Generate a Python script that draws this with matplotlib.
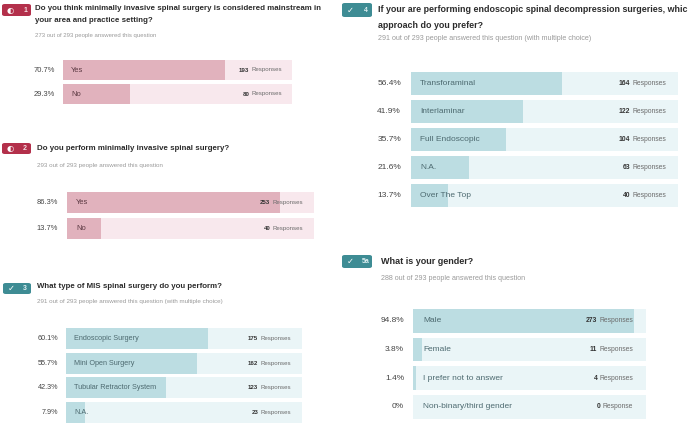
import matplotlib
matplotlib.use("Agg")
import matplotlib.pyplot as plt
from matplotlib.patches import FancyBboxPatch

W, H = 688, 424

# --- datos de las preguntas ---
q1_title = ["Do you think minimally invasive spinal surgery is considered mainstream in",
            "your area and practice setting?"]
q1_sub = "273 out of 293 people answered this question"
q1_labels = ["Yes", "No"]
q1_pct = [70.7, 29.3]
q1_resp = [193, 80]

q2_title = ["Do you perform minimally invasive spinal surgery?"]
q2_sub = "293 out of 293 people answered this question"
q2_labels = ["Yes", "No"]
q2_pct = [86.3, 13.7]
q2_resp = [253, 40]

q3_title = ["What type of MIS spinal surgery do you perform?"]
q3_sub = "291 out of 293 people answered this question (with multiple choice)"
q3_labels = ["Endoscopic Surgery", "Mini Open Surgery", "Tubular Retractor System", "N.A."]
q3_pct = [60.1, 55.7, 42.3, 7.9]
q3_resp = [175, 162, 123, 23]

q4_title = ["If your are performing endoscopic spinal decompression surgeries, which",
            "approach do you prefer?"]
q4_sub = "291 out of 293 people answered this question (with multiple choice)"
q4_labels = ["Transforaminal", "Interlaminar", "Full Endoscopic", "N.A.", "Over The Top"]
q4_pct = [56.4, 41.9, 35.7, 21.6, 13.7]
q4_resp = [164, 122, 104, 63, 40]

q5_title = ["What is your gender?"]
q5_sub = "288 out of 293 people answered this question"
q5_labels = ["Male", "Female", "I prefer not to answer", "Non-binary/third gender"]
q5_pct = [94.8, 3.8, 1.4, 0]
q5_resp = [273, 11, 4, 0]

ROSA = ("#b3304b", "#e1b2bd", "#f8e8ed", "#5b3942")
VERDE = ("#3e8c94", "#bcdde2", "#eaf5f7", "#4d6a70")

plt.rcParams['font.family'] = ['Liberation Sans', 'DejaVu Sans']

fig = plt.figure(figsize=(W / 100, H / 100), dpi=100)


def rect(x0, y0, x1, y1):
    return [x0 / W, 1 - y1 / H, (x1 - x0) / W, (y1 - y0) / H]


def badge(x0, y0, x1, y1, color, icon, num):
    p = FancyBboxPatch((x0 / W, 1 - y1 / H), (x1 - x0) / W, (y1 - y0) / H,
                       boxstyle="round,pad=0,rounding_size=0.004",
                       transform=fig.transFigure, fc=color, ec="none")
    fig.add_artist(p)
    yc = 1 - (y0 + y1) / 2 / H
    fig.text((x0 + 8) / W, yc, icon, color="white", fontsize=6, ha="center", va="center",
             family=["DejaVu Sans"])
    fig.text((x1 - 6) / W, yc, num, color="#f5dde2" if color == ROSA[0] else "#dff0f2",
             fontsize=5, ha="center", va="center", weight="bold")


def encabezado(x, ys, lineas, sub, ysub, fs=5.7, fs_sub=4.5):
    for y, t in zip(ys, lineas):
        fig.text(x / W, 1 - y / H, t, fontsize=fs, weight="bold", color="#2b2b2b",
                 ha="left", va="center")
    fig.text(x / W, 1 - ysub / H, sub, fontsize=fs_sub, color="#9a9a9a", ha="left", va="center")


def barras(x0, x1, top, pitch, h, labels, pct, resp, colores, pct_right, pad_l, pad_r,
           fs=5.4, fs_r=4.4):
    n = len(labels)
    bottom = top + pitch * (n - 1) + h
    ax = fig.add_axes(rect(x0, top, x1, bottom))
    frac = h / pitch
    ys = list(range(n))
    ax.barh(ys, [100] * n, height=frac, color=colores[2], edgecolor="none")
    ax.barh(ys, pct, height=frac, color=colores[1], edgecolor="none")
    ax.set_xlim(0, 100)
    ax.set_ylim(n - 1 + frac / 2, -frac / 2)
    ax.axis("off")
    ancho = x1 - x0
    for i in ys:
        ax.text(pad_l / ancho * 100, i, labels[i], fontsize=fs, color=colores[3],
                ha="left", va="center")
        word = "Response" if resp[i] == 1 or resp[i] == 0 else "Responses"
        tr = ax.text(100 - pad_r / ancho * 100, i, word, fontsize=fs_r, color="#6b6b6b",
                     ha="right", va="center")
        ax.annotate(str(resp[i]), xy=(0, 0.5), xycoords=tr, xytext=(-1.5, 0),
                    textcoords="offset points", fontsize=fs_r, weight="bold",
                    color="#333333", ha="right", va="center")
        ax.annotate("%g%%" % pct[i], xy=(pct_right, 1 - (top + pitch * i + h / 2) / H),
                    xycoords="figure fraction", fontsize=fs, color="#444444",
                    ha="right", va="center")
    return ax


# pregunta 1
badge(2, 4, 31, 16, ROSA[0], "\u25d0", "1")
encabezado(35, [9, 21], q1_title, q1_sub, 35, fs_sub=4.35)
barras(63, 292, 60, 24, 20, q1_labels, q1_pct, q1_resp, ROSA, 55 / W, 8, 10)

# pregunta 2
badge(2, 143, 31, 154, ROSA[0], "\u25d0", "2")
encabezado(37, [149], q2_title, q2_sub, 165)
barras(67, 314, 192, 26, 21, q2_labels, q2_pct, q2_resp, ROSA, 58 / W, 9, 11)

# pregunta 3
badge(3, 283, 31, 294, VERDE[0], "\u2713", "3")
encabezado(37, [287], q3_title, q3_sub, 302)
barras(66, 302, 328, 24.7, 21, q3_labels, q3_pct, q3_resp, VERDE, 58 / W, 8, 11, fs=5.2)

# pregunta 4 (la primera línea queda cortada en el borde, como en el original)
badge(342, 3, 372, 17, VERDE[0], "\u2713", "4")
encabezado(378, [9, 25], q4_title, q4_sub, 39, fs=6.4, fs_sub=5.1)
barras(411, 678, 72, 28, 23, q4_labels, q4_pct, q4_resp, VERDE, 401 / W, 9, 12,
       fs=6.0, fs_r=4.9)

# pregunta 5a
badge(342, 255, 372, 268, VERDE[0], "\u2713", "5a")
encabezado(381, [262], q5_title, q5_sub, 279, fs=6.5, fs_sub=5.1)
barras(413, 646, 309, 28.7, 23.5, q5_labels, q5_pct, q5_resp, VERDE, 404 / W, 10, 13,
       fs=6.0, fs_r=4.9)

fig.savefig("out.png", dpi=100)
